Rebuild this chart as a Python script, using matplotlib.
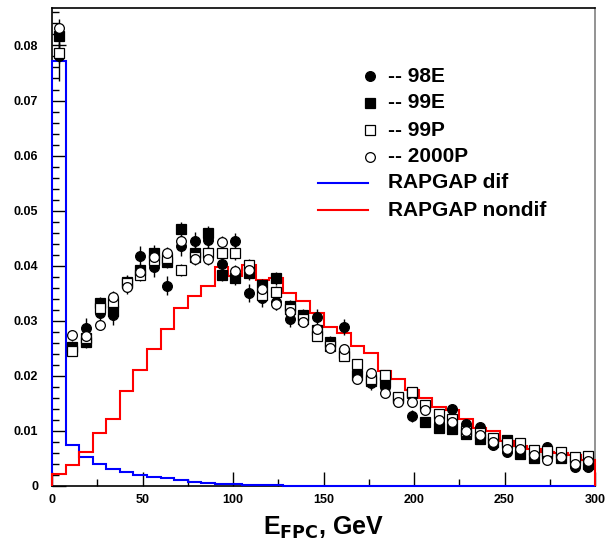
import numpy as np
import matplotlib
matplotlib.use("Agg")
import matplotlib.pyplot as plt
from matplotlib.ticker import MultipleLocator

plt.rcParams['font.family'] = ['Liberation Sans', 'DejaVu Sans']
plt.rcParams['font.weight'] = 'bold'

# bin edges of the histograms, GeV
edges = np.arange(0, 300.1, 7.5)
centers = 0.5 * (edges[:-1] + edges[1:])

rapgap_dif = [0.0772, 0.0074, 0.0053, 0.0040, 0.0031, 0.0025, 0.0020, 0.0016, 0.0014, 0.0011,
              0.0008, 0.0006, 0.0004, 0.0003, 0.0002, 0.0001, 0.0001, 0.00005, 0, 0,
              0, 0, 0, 0, 0, 0, 0, 0, 0, 0,
              0, 0, 0, 0, 0, 0, 0, 0, 0, 0]
rapgap_nondif = [0.0021, 0.0039, 0.0062, 0.0096, 0.0122, 0.0172, 0.0210, 0.0249, 0.0286, 0.0324,
                 0.0345, 0.0363, 0.0398, 0.0382, 0.0401, 0.0374, 0.0377, 0.0351, 0.0336, 0.0315,
                 0.0289, 0.0277, 0.0255, 0.0241, 0.0209, 0.0195, 0.0175, 0.0159, 0.0144, 0.0138,
                 0.0122, 0.0106, 0.0100, 0.0082, 0.0072, 0.0067, 0.0061, 0.0060, 0.0056, 0.0048]

d98E = [0.0781, 0.0250, 0.0287, 0.0314, 0.0310, 0.0365, 0.0418, 0.0397, 0.0364, 0.0436,
        0.0444, 0.0447, 0.0404, 0.0444, 0.0350, 0.0341, 0.0335, 0.0303, 0.0305, 0.0307,
        0.0256, 0.0289, 0.0217, 0.0187, 0.0180, 0.0158, 0.0127, 0.0141, 0.0116, 0.0139,
        0.0112, 0.0108, 0.0074, 0.0062, 0.0064, 0.0053, 0.0071, 0.0050, 0.0035, 0.0035]
e98E = [0.0045, 0.0012, 0.0018, 0.0016, 0.0018, 0.0017, 0.0017, 0.0018, 0.0017, 0.0018,
        0.0017, 0.0017, 0.0016, 0.0016, 0.0016, 0.0016, 0.0016, 0.0015, 0.0015, 0.0015,
        0.0014, 0.0014, 0.0013, 0.0012, 0.0012, 0.0011, 0.0011, 0.0010, 0.0010, 0.0010,
        0.0009, 0.0009, 0.0008, 0.0008, 0.0008, 0.0007, 0.0007, 0.0007, 0.0007, 0.0006]

d99E = [0.0818, 0.0253, 0.0261, 0.0332, 0.0318, 0.0371, 0.0392, 0.0424, 0.0407, 0.0466,
        0.0424, 0.0459, 0.0384, 0.0377, 0.0386, 0.0365, 0.0377, 0.0327, 0.0310, 0.0283,
        0.0262, 0.0241, 0.0201, 0.0190, 0.0189, 0.0160, 0.0168, 0.0117, 0.0105, 0.0104,
        0.0094, 0.0086, 0.0080, 0.0084, 0.0059, 0.0050, 0.0059, 0.0050, 0.0045, 0.0040]
e99E = [0.0022, 0.0010, 0.0011, 0.0012, 0.0012, 0.0012, 0.0012, 0.0013, 0.0012, 0.0013,
        0.0012, 0.0013, 0.0012, 0.0012, 0.0012, 0.0011, 0.0012, 0.0011, 0.0011, 0.0010,
        0.0010, 0.0010, 0.0009, 0.0009, 0.0009, 0.0008, 0.0008, 0.0007, 0.0007, 0.0007,
        0.0006, 0.0006, 0.0006, 0.0006, 0.0005, 0.0005, 0.0005, 0.0005, 0.0005, 0.0004]

d99P = [0.0787, 0.0245, 0.0268, 0.0324, 0.0335, 0.0368, 0.0383, 0.0410, 0.0414, 0.0393,
        0.0416, 0.0423, 0.0424, 0.0423, 0.0402, 0.0347, 0.0352, 0.0321, 0.0303, 0.0273,
        0.0255, 0.0236, 0.0222, 0.0195, 0.0202, 0.0162, 0.0171, 0.0147, 0.0131, 0.0122,
        0.0100, 0.0096, 0.0087, 0.0078, 0.0078, 0.0066, 0.0063, 0.0062, 0.0053, 0.0054]
e99P = [0.0018, 0.0009, 0.0010, 0.0011, 0.0011, 0.0011, 0.0011, 0.0012, 0.0012, 0.0011,
        0.0012, 0.0012, 0.0012, 0.0012, 0.0011, 0.0011, 0.0011, 0.0010, 0.0010, 0.0010,
        0.0009, 0.0009, 0.0009, 0.0008, 0.0008, 0.0008, 0.0008, 0.0007, 0.0007, 0.0007,
        0.0006, 0.0006, 0.0006, 0.0005, 0.0005, 0.0005, 0.0005, 0.0005, 0.0004, 0.0004]

d2000P = [0.0832, 0.0275, 0.0272, 0.0292, 0.0344, 0.0362, 0.0389, 0.0415, 0.0423, 0.0444,
          0.0413, 0.0413, 0.0443, 0.0391, 0.0392, 0.0358, 0.0330, 0.0316, 0.0298, 0.0285,
          0.0250, 0.0248, 0.0195, 0.0206, 0.0168, 0.0152, 0.0153, 0.0138, 0.0120, 0.0116,
          0.0100, 0.0092, 0.0080, 0.0068, 0.0068, 0.0056, 0.0047, 0.0053, 0.0040, 0.0045]
e2000P = [0.0016, 0.0008, 0.0009, 0.0009, 0.0010, 0.0010, 0.0010, 0.0011, 0.0011, 0.0011,
          0.0011, 0.0011, 0.0011, 0.0010, 0.0010, 0.0010, 0.0010, 0.0009, 0.0009, 0.0009,
          0.0008, 0.0008, 0.0008, 0.0007, 0.0007, 0.0007, 0.0007, 0.0006, 0.0006, 0.0006,
          0.0005, 0.0005, 0.0005, 0.0005, 0.0005, 0.0004, 0.0004, 0.0004, 0.0004, 0.0004]

xticks = [0, 50, 100, 150, 200, 250, 300]
yticks = [0, 0.01, 0.02, 0.03, 0.04, 0.05, 0.06, 0.07, 0.08]
yticklabels = ['0', '0.01', '0.02', '0.03', '0.04', '0.05', '0.06', '0.07', '0.08']

series = [
    ('-- 98E', d98E, e98E, 'o', 'black'),
    ('-- 99E', d99E, e99E, 's', 'black'),
    ('-- 99P', d99P, e99P, 's', 'white'),
    ('-- 2000P', d2000P, e2000P, 'o', 'white'),
]

fig = plt.figure(figsize=(6.05, 5.45), dpi=100)
ax = fig.add_axes([52 / 605, 59 / 545, 543 / 605, 478 / 545])

ax.stairs(rapgap_dif, edges, baseline=0, color='#0000ff', lw=1.5, zorder=2.6, clip_on=False)
ax.stairs(rapgap_nondif, edges, baseline=0, color='#ff0000', lw=1.5, zorder=2.7, clip_on=False)

for name, d, e, m, fc in series:
    ax.errorbar(centers, d, yerr=e, xerr=1.3, fmt=m, ms=7 if m == 'o' else 6.5,
                mfc=fc, mec='black', mew=0.9, ecolor='black', elinewidth=1.0,
                capsize=0, zorder=3)

ax.set_xlim(0, 300)
ax.set_ylim(0, 0.0868)
ax.set_xticks(xticks)
ax.set_xticklabels([str(t) for t in xticks])
ax.set_yticks(yticks)
ax.set_yticklabels(yticklabels)
ax.xaxis.set_minor_locator(MultipleLocator(25))
ax.yaxis.set_minor_locator(MultipleLocator(0.002))
ax.tick_params(which='both', direction='in', top=False, right=False, labelsize=9)
ax.tick_params(which='major', length=10, width=1)
ax.tick_params(which='minor', length=5, width=1)
ax.tick_params(axis='x', pad=6)
ax.tick_params(axis='y', pad=10)
for lab in ax.get_xticklabels() + ax.get_yticklabels():
    lab.set_fontweight('bold')
ax.spines['right'].set_color('#808080')
for s in ax.spines.values():
    s.set_linewidth(1.2)

ax.set_xlabel(r'E$_{\mathbf{FPC}}$, GeV', fontsize=18, fontweight='bold', labelpad=6)


# manual legend in pixel positions converted to axes fraction
def ax_pos(px, py):
    return (px - 52) / 543, (486 - py) / 478


rows = [76, 103, 130, 157]
for (name, d, e, m, fc), py in zip(series, rows):
    x0, y0 = ax_pos(370, py)
    ax.plot([x0], [y0], marker=m, ms=7 if m == 'o' else 6.5, mfc=fc, mec='black',
            mew=0.9, transform=ax.transAxes, clip_on=False, zorder=4)
    tx, ty = ax_pos(388, py)
    ax.text(tx, ty, name, transform=ax.transAxes, fontsize=15, fontweight='bold',
            va='center', ha='left')

for name, col, py in [('RAPGAP dif', '#0000ff', 183), ('RAPGAP nondif', '#ff0000', 210)]:
    xa, ya = ax_pos(318, py)
    xb, _ = ax_pos(368, py)
    ax.plot([xa, xb], [ya, ya], color=col, lw=1.5, transform=ax.transAxes)
    tx, ty = ax_pos(388, py)
    ax.text(tx, ty, name, transform=ax.transAxes, fontsize=15, fontweight='bold',
            va='center', ha='left')

fig.savefig('out.png', dpi=100)
